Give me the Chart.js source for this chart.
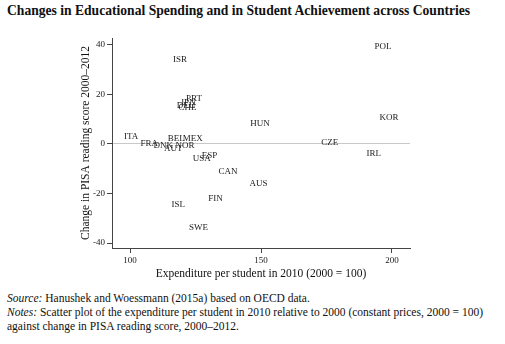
<!DOCTYPE html>
<html>
<head>
<meta charset="utf-8">
<script src="https://cdn.jsdelivr.net/npm/chart.js@4"></script>
<style>
  body { margin: 0; background: #fff; width: 505px; height: 344px; overflow: hidden; position: relative; }
  #title { position: absolute; left: 7px; top: 3px; font: bold 13.6px "Liberation Serif", serif; color: #111; white-space: nowrap; }
  #box { position: absolute; left: 0; top: 0; width: 505px; height: 290px; }
  #notes { position: absolute; left: 7px; top: 291px; font: 11.5px/14px "Liberation Serif", serif; color: #111; white-space: nowrap; }
</style>
</head>
<body>
<div id="title">Changes in Educational Spending and in Student Achievement across Countries</div>
<div id="box"><canvas id="mycanvas"></canvas></div>
<div id="notes"><i>Source:</i> Hanushek and Woessmann (2015a) based on OECD data.<br><i>Notes:</i> Scatter plot of the expenditure per student in 2010 relative to 2000 (constant prices, 2000 = 100)<br>against change in PISA reading score, 2000–2012.</div>
<script>
var countries = ['POL','ISR','PRT','JPN','DEU','CHE','HUN','KOR','CZE','IRL','AUS','ITA','FRA','DNK','NOR','AUT','BEL','MEX','ESP','USA','CAN','FIN','ISL','SWE'];
var spending = [196.6,119.1,124.4,122.1,121.4,121.9,149.6,198.9,176.3,193.1,149.0,100.4,107.3,112.7,121.0,116.5,117.6,123.9,130.3,127.4,137.4,132.6,118.4,126.1];
var readingChange = [39.2,34.2,18.2,16.6,15.3,14.8,8.1,10.8,0.5,-4.0,-16.2,2.9,0.0,-0.8,-0.7,-2.0,2.0,2.0,-4.8,-6.1,-11.0,-22.2,-24.4,-33.7];
var xTicks = [100,150,200];
var yTicks = [-40,-20,0,20,40];

var points = [];
for (var i in countries) {
	points.push({x: spending[i], y: readingChange[i]});
}

// draw the country codes at each point
var labelPlugin = {
	id: 'countryLabels',
	afterDatasetsDraw: function(chart) {
		var ctx = chart.ctx;
		var meta = chart.getDatasetMeta(0);
		ctx.save();
		ctx.font = '9px "Liberation Serif", serif';
		ctx.fillStyle = '#1a1a1a';
		ctx.textAlign = 'center';
		ctx.textBaseline = 'middle';
		meta.data.forEach(function(pt, i) {
			ctx.fillText(countries[i], pt.x, pt.y);
		});
		ctx.restore();
	}
};

var tickFont = {family: '"Liberation Serif", serif', size: 9};
var titleFont = {family: '"Liberation Serif", serif', size: 11.5};

new Chart(document.getElementById('mycanvas'), {
	type: 'scatter',
	data: {
		datasets: [{
			data: points,
			pointRadius: 0,
			pointHoverRadius: 0
		}]
	},
	options: {
		responsive: true,
		maintainAspectRatio: false,
		animation: false,
		events: [],
		layout: {padding: {top: 38, right: 95, left: 0, bottom: 0}},
		plugins: {legend: {display: false}, tooltip: {enabled: false}},
		scales: {
			x: {
				type: 'linear',
				min: 93.1,
				max: 206.9,
				afterBuildTicks: function(scale) { scale.ticks = xTicks.map(function(v){ return {value: v}; }); },
				afterFit: function(scale) { scale.height = 42; },
				border: {display: true, color: '#444', width: 1},
				grid: {drawOnChartArea: false, tickLength: 5, tickColor: '#444'},
				ticks: {font: tickFont, color: '#222', padding: 2, maxRotation: 0},
				title: {display: true, text: 'Expenditure per student in 2010 (2000 = 100)', font: titleFont, color: '#111', padding: {top: 0, bottom: 9}}
			},
			y: {
				min: -42.0,
				max: 42.8,
				afterBuildTicks: function(scale) { scale.ticks = yTicks.map(function(v){ return {value: v}; }); },
				afterFit: function(scale) { scale.width = 112; },
				border: {display: true, color: '#444', width: 1},
				grid: {
					drawOnChartArea: true,
					tickLength: 5,
					tickColor: '#444',
					color: function(c) { return c.tick && c.tick.value === 0 ? '#c8c8c8' : 'rgba(0,0,0,0)'; }
				},
				ticks: {font: tickFont, color: '#222', padding: 2},
				title: {display: true, text: 'Change in PISA reading score 2000–2012', font: titleFont, color: '#111', padding: {top: 79, bottom: 0}}
			}
		}
	},
	plugins: [labelPlugin]
});
</script>
</body>
</html>
